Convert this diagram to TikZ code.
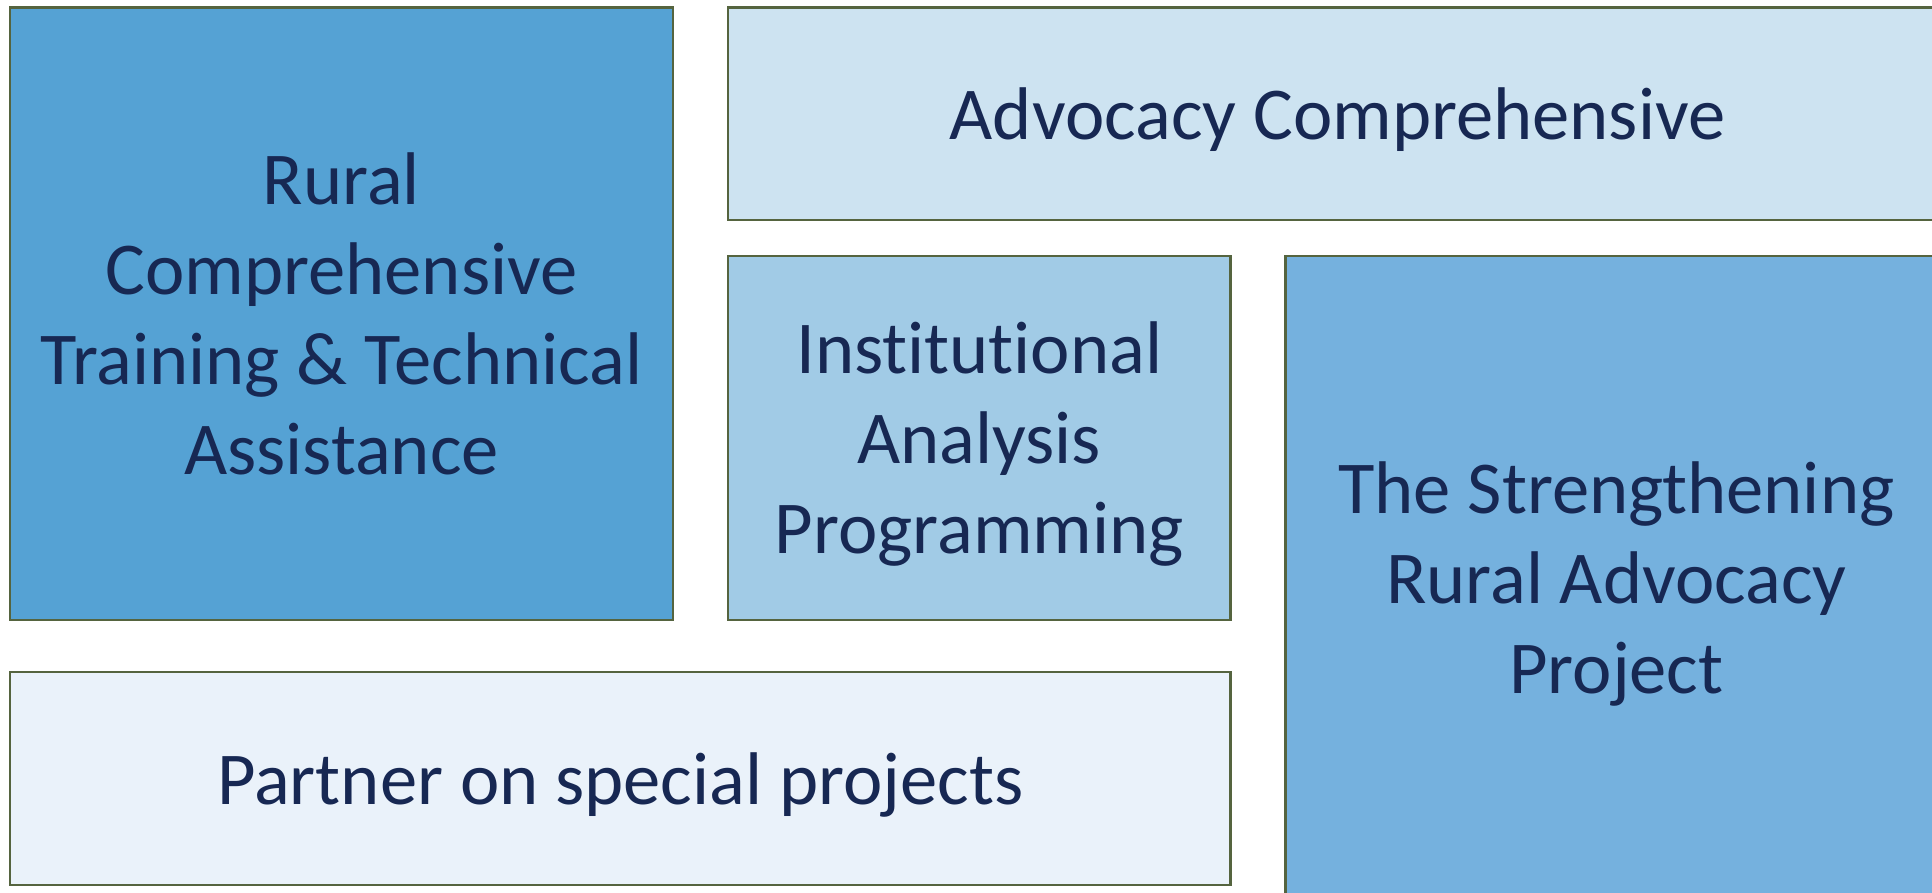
\documentclass[tikz,border=0pt]{standalone}
\usepackage{fontspec}
\setmainfont[Ligatures=NoCommon]{Carlito}
\definecolor{txt}{HTML}{172853}
\definecolor{edge}{HTML}{55643F}
\definecolor{cRural}{HTML}{55A2D4}
\definecolor{cAdv}{HTML}{CDE3F1}
\definecolor{cInst}{HTML}{A1CBE6}
\definecolor{cStr}{HTML}{75B1DE}
\definecolor{cPart}{HTML}{EAF2FA}
\newcommand\topstrut{\rule{0pt}{71pt}}
\newcommand\botstrut{\rule[-20pt]{0pt}{0pt}}
\tikzset{
  box/.style={draw=edge, line width=2.5pt, rectangle, inner sep=0pt, align=center,
    text=txt, font=\fontsize{74.6}{90}\selectfont}
}
\begin{document}
\begin{tikzpicture}[x=1pt,y=-1pt]
\useasboundingbox (0,0) rectangle (1932,893);
\clip (0,0) rectangle (1932,893);
\node[box, fill=cRural, minimum width=663pt, minimum height=612.5pt] (rural) at (341.5,313.75)
  {\topstrut Rural\\Comprehensive\\Training \& Technical\\Assistance\botstrut};
\node[box, fill=cAdv, minimum width=1219pt, minimum height=212.5pt] (adv) at (1337.5,113.75)
  {\topstrut Advocacy Comprehensive\botstrut};
\node[box, fill=cInst, minimum width=502.5pt, minimum height=364pt] (inst) at (979.25,438)
  {\topstrut Institutional\\Analysis\\Programming\botstrut};
\node[box, fill=cStr, minimum width=661.3pt, minimum height=644pt] (str) at (1616.35,578)
  {\topstrut The Strengthening\\Rural Advocacy\\Project\botstrut};
\node[box, fill=cPart, minimum width=1220.5pt, minimum height=213pt] (part) at (620.25,778.5)
  {\topstrut Partner on special projects\botstrut};
\end{tikzpicture}
\end{document}
